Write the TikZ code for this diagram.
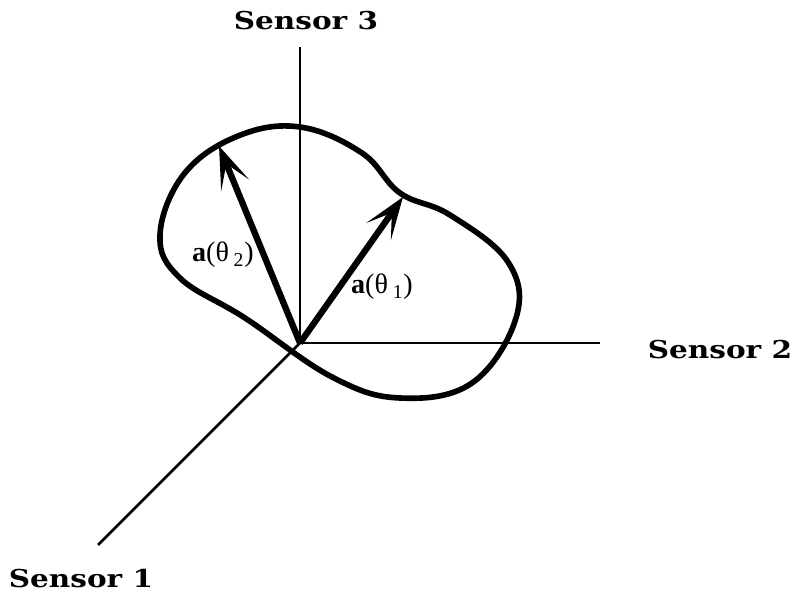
\documentclass[tikz,border=0pt]{standalone}
\usepackage{fontspec}
\setmainfont{Liberation Serif}
\newfontfamily\sensorfont{DejaVu Serif}
\usepackage{tikz}
\usetikzlibrary{arrows.meta,positioning}
\tikzset{
  axis/.style={line width=1.6pt},
  vec/.style={line width=3.6pt, -{Stealth[length=24pt, width=17pt, inset=13pt]}},
  blob/.style={line width=3.2pt},
  sensor/.style={font=\sensorfont\bfseries\fontsize{14}{16}\selectfont, inner sep=0pt, xscale=1.2, transform shape},
  lbl/.style={font=\fontsize{16}{18}\selectfont, inner sep=0pt}
}

\begin{document}
\begin{tikzpicture}[x=0.02cm, y=-0.02cm]
        \useasboundingbox (0,0) rectangle (791,597);
        \coordinate (o) at (300,343);
        \coordinate (e3) at (300,47);
        \coordinate (e2) at (600,343);
        \coordinate (e1) at (98,545);
        \coordinate (t2) at (219,146);
        \coordinate (t1) at (403,197);
        \draw[blob] plot[smooth cycle, tension=0.65] coordinates {
          (160,235) (184,174) (238,136) (300,127) (362,153) (400,193)
          (450,215) (508,262) (516,318) (472,383) (400,398) (332,377)
          (245,318) (180,278)};
        \draw[axis] (o) -- (e3);
        \draw[axis] (o) -- (e2);
        \draw[axis] (o) -- (e1);
        \draw[vec] (o) -- (t2);
        \draw[vec] (o) -- (t1);
        \node[sensor] (s3) at (306,21) {Sensor 3};
        \node[sensor] (s2) at (720,350) {Sensor 2};
        \node[sensor] (s1) at (81,579) {Sensor 1};
        \node[lbl] (a2) at (223,255) {\textbf{a}(θ\,\textsubscript{2})};
        \node[lbl] (a1) at (382,287) {\textbf{a}(θ\,\textsubscript{1})};
      \end{tikzpicture}
\end{document}
